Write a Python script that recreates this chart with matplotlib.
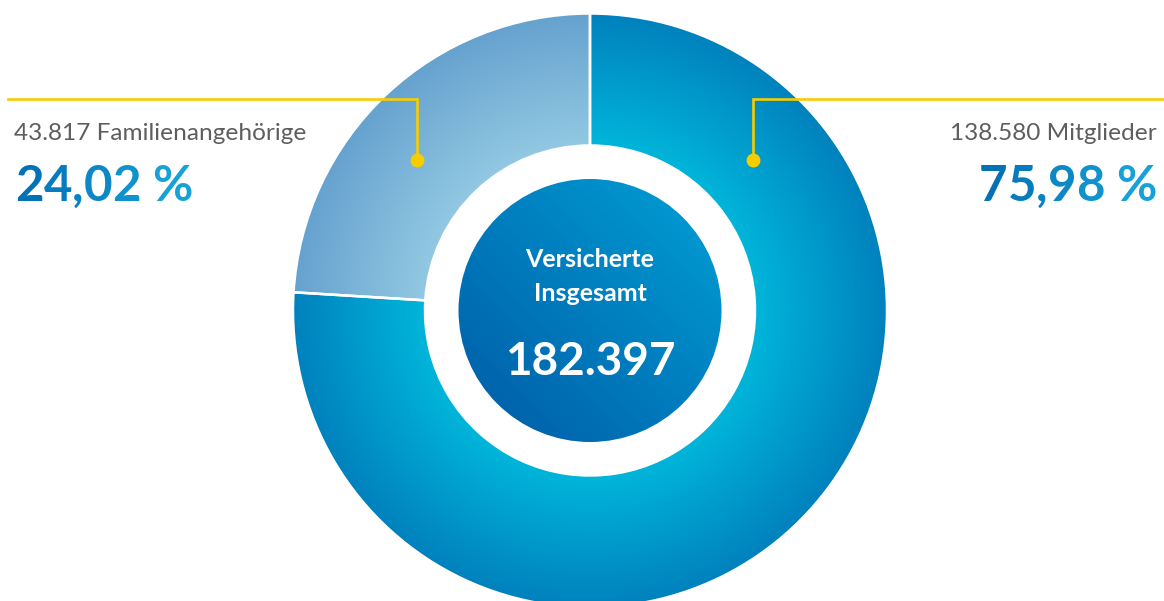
import numpy as np
import matplotlib
matplotlib.use("Agg")
import matplotlib.pyplot as plt
from matplotlib.colors import to_rgb
from matplotlib.patches import Circle

# Daten
gruppen = ["Familienangehörige", "Mitglieder"]
anzahl = [43817, 138580]
gesamt = sum(anzahl)
titel = ["Versicherte", "Insgesamt"]

def fmt_int(n):
    return f"{n:,}".replace(",", ".")

def fmt_pct(v):
    return f"{v:.2f}".replace(".", ",") + " %"

prozent = [100 * a / gesamt for a in anzahl]

W, H = 1164, 601
fig = plt.figure(figsize=(W / 100, H / 100), dpi=100)
ax = fig.add_axes([0, 0, 1, 1])

FONT = "Lato"
GELB = "#f7cd00"
GRAU = "#5e5e5e"

cx, cy = 590, H - 310.5
r_out, r_in, r_kern = 297, 165, 131.5

wedges, _ = ax.pie(anzahl, startangle=90, counterclock=True, radius=r_out,
                   center=(cx, cy), frame=True,
                   wedgeprops=dict(width=r_out - r_in, edgecolor="white",
                                   linewidth=1.8, facecolor="none"))
for w in wedges:
    w.set_zorder(3)

yy, xx = np.mgrid[0:H, 0:W] + 0.5
rr = np.hypot(xx - cx, yy - cy)

def lerp_img(t, c0, c1):
    t = np.clip(t, 0, 1)[..., None]
    return (1 - t) * np.array(to_rgb(c0)) + t * np.array(to_rgb(c1))

# radiale Verlaeufe fuer die beiden Segmente (innen -> aussen)
t_ring = (rr - r_in) / (r_out - r_in)
verlauf = [("#92c8e2", "#66a2cf"), ("#00b5da", "#0081bd")]
for w, (c_in, c_out) in zip(wedges, verlauf):
    im = ax.imshow(lerp_img(t_ring, c_in, c_out), extent=(0, W, 0, H),
                   origin="lower", interpolation="bilinear", zorder=2)
    im.set_clip_path(w)

# Kreis in der Mitte mit diagonalem Verlauf
kern = Circle((cx, cy), r_kern, facecolor="none", edgecolor="none", zorder=4)
ax.add_patch(kern)
proj = ((xx - cx) + (yy - cy)) / np.sqrt(2)
im = ax.imshow(lerp_img((proj + r_kern) / (2 * r_kern), "#0064ad", "#0096cf"),
               extent=(0, W, 0, H), origin="lower", interpolation="bilinear",
               zorder=4)
im.set_clip_path(kern)

ax.text(cx, H - 267, titel[0], ha="center", va="baseline", color="white",
        fontsize=18, fontweight="bold", family=FONT, zorder=5)
ax.text(cx, H - 301, titel[1], ha="center", va="baseline", color="white",
        fontsize=18, fontweight="bold", family=FONT, zorder=5)
ax.text(cx, H - 375, fmt_int(gesamt), ha="center", va="baseline",
        color="white", fontsize=33, fontweight="bold", family=FONT, zorder=5)

# gelbe Hinweislinien
ax.plot([8, 417, 417], [H - 99, H - 99, H - 160], color=GELB, lw=1.9,
        solid_joinstyle="miter", zorder=6)
ax.plot([417], [H - 160], "o", color=GELB, ms=9, zorder=6)
ax.plot([1164, 753, 753], [H - 99, H - 99, H - 160], color=GELB, lw=1.9,
        solid_joinstyle="miter", zorder=6)
ax.plot([753], [H - 160], "o", color=GELB, ms=9, zorder=6)

renderer = fig.canvas.get_renderer()

def breite(s, size):
    t = ax.text(0, 0, s, fontsize=size, fontweight="bold", family=FONT)
    b = t.get_window_extent(renderer).width
    t.remove()
    return b

def verlauf_text(x, y, s, size, ha, c0="#006cb3", c1="#1aa9dc"):
    full = breite(s, size)
    x0 = x if ha == "left" else x - full
    a, b = np.array(to_rgb(c0)), np.array(to_rgb(c1))
    for i, ch in enumerate(s):
        if ch == " ":
            continue
        w = breite(s[:i + 1], size)
        f = np.clip((w - 0.5 * breite(ch, size)) / full, 0, 1)
        ax.text(x0 + w, y, ch, ha="right", va="baseline", fontsize=size,
                fontweight="bold", family=FONT, color=(1 - f) * a + f * b,
                zorder=6)

# Beschriftungen links / rechts
ax.text(14, H - 140, f"{fmt_int(anzahl[0])} {gruppen[0]}", ha="left",
        va="baseline", color=GRAU, fontsize=17.6, family=FONT)
verlauf_text(15, H - 201, fmt_pct(prozent[0]), 35.5, "left")

ax.text(1157, H - 140, f"{fmt_int(anzahl[1])} {gruppen[1]}", ha="right",
        va="baseline", color=GRAU, fontsize=17.6, family=FONT)
verlauf_text(1157, H - 201, fmt_pct(prozent[1]), 35.5, "right")

ax.set_xlim(0, W)
ax.set_ylim(0, H)
ax.set_aspect("auto")
ax.axis("off")

fig.savefig("out.png", dpi=100, facecolor="white")
